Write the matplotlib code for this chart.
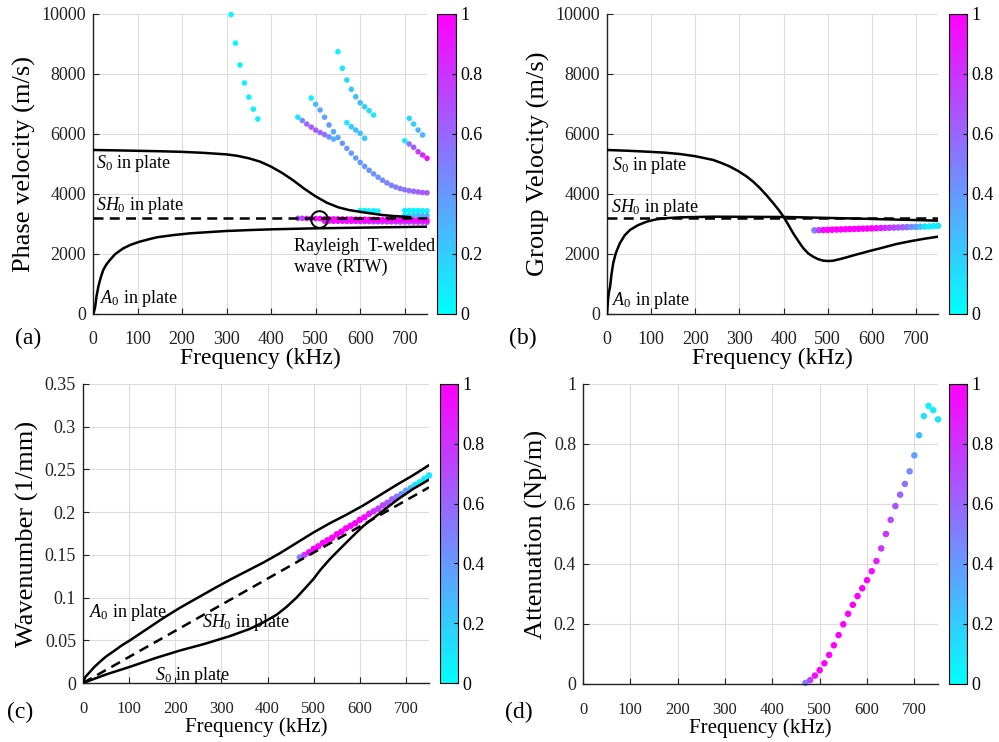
import numpy as np
import matplotlib
matplotlib.use('Agg')
import matplotlib.pyplot as plt
from matplotlib.cm import ScalarMappable
from matplotlib.colors import Normalize
from matplotlib.ticker import FormatStrFormatter

plt.rcParams['font.family'] = 'Liberation Serif'
plt.rcParams['mathtext.fontset'] = 'custom'
plt.rcParams['mathtext.rm'] = 'Liberation Serif'
plt.rcParams['mathtext.it'] = 'Liberation Serif:italic'

# ---------------- (a) phase velocity ----------------
f_s0_ph = [0, 50, 100, 150, 200, 250, 300, 325, 350, 375, 400, 425, 450, 475, 500,
           525, 550, 575, 600, 625, 650, 675, 700, 712]
v_s0_ph = [5467, 5455, 5440, 5425, 5405, 5370, 5320, 5270, 5190, 5080, 4911, 4700, 4450, 4170, 3920,
           3710, 3560, 3465, 3405, 3350, 3300, 3265, 3244, 3230]
f_a0_ph = [0, 2, 5, 8, 12, 17, 23, 30, 38, 50, 68, 85, 105, 125, 143, 180, 218, 260,
           300, 350, 400, 500, 600, 700, 750]
v_a0_ph = [0, 60, 250, 600, 911, 1200, 1467, 1650, 1800, 2000, 2189, 2310, 2411, 2490, 2556, 2630, 2689, 2730,
           2767, 2797, 2822, 2856, 2878, 2900, 2911]
f_sh0 = [0, 750]
v_sh0 = [3200, 3200]

f_g1 = [310, 320, 330, 340, 350, 360, 370]
v_g1 = [9980, 9030, 8300, 7700, 7230, 6830, 6500]
c_g1 = [0.03, 0.03, 0.05, 0.05, 0.05, 0.06, 0.06]
f_g2 = [460, 470, 480, 490, 500, 510, 520, 530, 540]
v_g2 = [6560, 6450, 6330, 6230, 6130, 6050, 5980, 5900, 5830]
c_g2 = [0.1, 0.45, 0.6, 0.65, 0.65, 0.6, 0.55, 0.45, 0.3]
f_g3 = [490, 500, 510, 520, 530, 540, 550, 560, 570, 580, 590, 600, 610, 620,
        630, 640, 650, 660, 670, 680, 690, 700, 710, 720, 730, 740, 750]
v_g3 = [7200, 6990, 6800, 6560, 6300, 6080, 5880, 5690, 5520, 5360, 5200, 5050, 4920, 4790,
        4670, 4560, 4460, 4370, 4290, 4230, 4180, 4140, 4110, 4090, 4070, 4050, 4040]
c_g3 = [0.05, 0.25, 0.35, 0.35, 0.4, 0.35, 0.35, 0.4, 0.4, 0.4, 0.4, 0.4, 0.4, 0.42,
        0.42, 0.42, 0.45, 0.5, 0.5, 0.5, 0.52, 0.55, 0.57, 0.6, 0.62, 0.65, 0.65]
f_g4 = [550, 560, 570, 580, 590, 600, 610, 620, 630]
v_g4 = [8743, 8190, 7800, 7490, 7243, 7043, 6910, 6777, 6633]
c_g4 = [0.05, 0.1, 0.15, 0.2, 0.25, 0.25, 0.2, 0.15, 0.1]
f_g5 = [570, 580, 590, 600, 610]
v_g5 = [6377, 6243, 6133, 6023, 5857]
c_g5 = [0.1, 0.2, 0.25, 0.25, 0.2]
f_g6 = [710, 720, 730, 740]
v_g6 = [6523, 6333, 6133, 5967]
c_g6 = [0.15, 0.2, 0.3, 0.3]
f_g7 = [700, 710, 720, 730, 740, 750]
v_g7 = [5777, 5667, 5557, 5410, 5300, 5190]
c_g7 = [0.1, 0.55, 0.65, 0.75, 0.85, 0.95]

f_rtw1 = [460, 470, 480, 490, 500, 510, 520, 530, 540, 550, 560, 570, 580, 590, 600,
          610, 620, 630, 640, 650, 660, 670, 680, 690, 700, 710, 720, 730, 740, 750]
v_rtw1 = [3190, 3190, 3185, 3185, 3180, 3180, 3175, 3175, 3170, 3170, 3170, 3165, 3165, 3160, 3160,
          3160, 3155, 3155, 3150, 3150, 3150, 3145, 3145, 3140, 3140, 3140, 3135, 3135, 3130, 3130]
c_rtw1 = [0.7, 0.75, 0.85, 0.95, 1, 1, 1, 1, 1, 1, 1, 1, 1, 1, 1,
          1, 1, 1, 1, 1, 1, 1, 1, 1, 1, 1, 1, 1, 1, 1]
f_rtw2 = [520, 530, 540, 550, 560, 570, 580, 590, 600, 610, 620, 630,
          640, 650, 660, 670, 680, 690, 700, 710, 720, 730, 740, 750]
v_rtw2 = [3095, 3095, 3090, 3090, 3090, 3085, 3085, 3085, 3080, 3080, 3080, 3075,
          3075, 3075, 3070, 3070, 3070, 3065, 3065, 3065, 3060, 3060, 3060, 3055]
c_rtw2 = [0.95, 0.95, 0.95, 0.9, 0.9, 0.9, 0.9, 0.85, 0.85, 0.85, 0.85, 0.8,
          0.8, 0.8, 0.8, 0.8, 0.75, 0.75, 0.75, 0.75, 0.75, 0.75, 0.75, 0.75]
f_cy1 = [600, 610, 620, 630, 640, 700, 710, 720, 730, 740, 750]
v_cy1 = [3450, 3450, 3440, 3440, 3430, 3450, 3450, 3450, 3450, 3440, 3440]
c_cy1 = [0.05, 0.05, 0.05, 0.05, 0.05, 0.05, 0.05, 0.05, 0.05, 0.05, 0.05]
f_cy2 = [700, 710, 720, 730, 740, 750]
v_cy2 = [3290, 3290, 3285, 3285, 3280, 3280]
c_cy2 = [0.1, 0.15, 0.2, 0.25, 0.3, 0.3]

# ---------------- (b) group velocity ----------------
f_s0_gr = [0, 50, 90, 130, 165, 200, 241, 260, 279, 298, 317, 332, 347, 362, 377, 390, 400,
           411, 422, 434, 445, 456, 467, 478, 490, 502, 513, 528, 543, 562, 581, 600,
           619, 637, 656, 675, 694, 722, 750]
v_s0_gr = [5467, 5440, 5411, 5380, 5333, 5260, 5133, 5030, 4911, 4760, 4578, 4400, 4189, 3950, 3689, 3450, 3244,
           2970, 2689, 2420, 2189, 2020, 1911, 1830, 1778, 1765, 1778, 1830, 1889, 1970, 2044, 2120,
           2189, 2260, 2333, 2390, 2444, 2515, 2578]
f_a0_gr = [0, 1, 2.5, 4, 7, 10, 14, 20, 29, 40, 52, 70, 90, 110, 128, 165, 241, 407, 543, 694, 750]
v_a0_gr = [0, 200, 500, 700, 911, 1300, 1689, 2030, 2356, 2620, 2800, 2960, 3078, 3150, 3189, 3222,
           3244, 3233, 3189, 3133, 3111]

f_rtw = [470, 480, 490, 500, 510, 520, 530, 540, 550, 560, 570, 580, 590, 600, 610,
         620, 630, 640, 650, 660, 670, 680, 690, 700, 710, 720, 730, 740, 750]
c_rtw = [0.5, 0.75, 0.95, 1, 1, 1, 1, 1, 1, 1, 1, 1, 1, 1, 0.95,
         0.9, 0.8, 0.78, 0.72, 0.68, 0.62, 0.55, 0.45, 0.38, 0.25, 0.12, 0.05, 0.08, 0.1]
vg_rtw = [2790, 2795, 2800, 2805, 2810, 2815, 2820, 2825, 2830, 2835, 2840, 2845, 2850, 2855, 2860,
          2865, 2870, 2875, 2880, 2885, 2890, 2895, 2900, 2905, 2910, 2915, 2920, 2930, 2940]

# ---------------- (c) wavenumber ----------------
f_a0_k = [0, 5, 15, 25, 37, 50, 66, 84, 102, 138, 174, 210, 246, 282, 319, 355, 391,
          427, 463, 499, 535, 571, 608, 644, 680, 715, 750]
k_a0 = [0, 0.007, 0.013, 0.019, 0.025, 0.031, 0.037, 0.044, 0.050, 0.063, 0.076, 0.088, 0.099, 0.110,
        0.121, 0.131, 0.141, 0.152, 0.164, 0.176, 0.187, 0.197, 0.208, 0.220, 0.232, 0.243, 0.255]
f_s0_k = [0, 50, 102, 156, 210, 265, 319, 360, 391, 420, 441, 463, 485, 500, 514, 535, 557,
          583, 608, 644, 680, 715, 750]
k_s0 = [0, 0.010, 0.019, 0.029, 0.038, 0.046, 0.055, 0.063, 0.071, 0.080, 0.089, 0.100, 0.113, 0.122,
        0.132, 0.145, 0.157, 0.171, 0.184, 0.199, 0.214, 0.227, 0.238]
k_sh0 = [0, 0.229]
k_rtw = [0.147, 0.150, 0.153, 0.157, 0.160, 0.164, 0.167, 0.170, 0.174, 0.177, 0.181, 0.184, 0.187, 0.191, 0.194,
         0.198, 0.201, 0.204, 0.208, 0.211, 0.215, 0.218, 0.221, 0.225, 0.228, 0.232, 0.235, 0.239, 0.243]

# ---------------- (d) attenuation ----------------
att_rtw = [0.004, 0.013, 0.028, 0.046, 0.069, 0.097, 0.129, 0.163, 0.199, 0.234, 0.264, 0.293, 0.319, 0.346, 0.376,
           0.41, 0.452, 0.5, 0.547, 0.593, 0.631, 0.667, 0.709, 0.762, 0.829, 0.893, 0.927, 0.913, 0.882]

freq_ticks = [0, 100, 200, 300, 400, 500, 600, 700]
rtw_circle = (507, 3170)

W, H = 999, 742
fig = plt.figure(figsize=(W / 100, H / 100), dpi=100)
cmap = 'cool'


def px_axes(x0, x1, y0, y1):
    return fig.add_axes([x0 / W, 1 - y1 / H, (x1 - x0) / W, (y1 - y0) / H])


def style(ax, ylim, yticks, ylabel, xpad, xlpad, xlsize, xtsize, yfmt=None):
    ax.set_xlim(0, 750)
    ax.set_ylim(*ylim)
    ax.set_xticks(freq_ticks)
    ax.set_yticks(yticks)
    if yfmt:
        ax.yaxis.set_major_formatter(FormatStrFormatter(yfmt))
    ax.grid(True, color='#dcdcdc', lw=0.8)
    ax.set_axisbelow(True)
    for s in ['top', 'right']:
        ax.spines[s].set_visible(False)
    for s in ['left', 'bottom']:
        ax.spines[s].set_linewidth(1.0)
        ax.spines[s].set_color('#222222')
    ax.tick_params(direction='in', length=4, labelsize=13, pad=5, colors='#222222')
    ax.tick_params(axis='x', pad=xpad, labelsize=xtsize)
    ax.set_xlabel('Frequency (kHz)', fontsize=xlsize, labelpad=xlpad)
    ax.set_ylabel(ylabel, fontsize=19, labelpad=4)


def cbar(x0, x1, y0, y1):
    cax = px_axes(x0, x1, y0, y1)
    sm = ScalarMappable(norm=Normalize(0, 1), cmap=cmap)
    cb = fig.colorbar(sm, cax=cax, ticks=[0, 0.2, 0.4, 0.6, 0.8, 1])
    cb.ax.yaxis.set_major_formatter(FormatStrFormatter('%g'))
    cb.ax.tick_params(direction='in', length=3, labelsize=13, pad=3)
    cb.outline.set_linewidth(0.8)


def dots(ax, f, y, c, s=16):
    ax.scatter(f, y, c=c, cmap=cmap, vmin=0, vmax=1, s=s, edgecolors='none', zorder=2, clip_on=False)


lw = 1.8
dash = (0, (4, 2.5))
it = {'fontsize': 13}

# (a)
ax = px_axes(93, 427, 14, 314)
for f, v, c in [(f_g1, v_g1, c_g1), (f_g2, v_g2, c_g2), (f_g3, v_g3, c_g3), (f_g4, v_g4, c_g4),
                (f_g5, v_g5, c_g5), (f_g6, v_g6, c_g6), (f_g7, v_g7, c_g7), (f_cy1, v_cy1, c_cy1),
                (f_cy2, v_cy2, c_cy2), (f_rtw2, v_rtw2, c_rtw2), (f_rtw1, v_rtw1, c_rtw1)]:
    dots(ax, f, v, c)
ax.plot(f_s0_ph, v_s0_ph, color='black', lw=lw, zorder=3)
ax.plot(f_a0_ph, v_a0_ph, color='black', lw=lw, zorder=3)
ax.plot(f_sh0, v_sh0, color='black', lw=lw, ls=dash, zorder=3)
ax.plot(*rtw_circle, 'o', ms=12, mfc='none', mec='black', mew=1.4, zorder=4)
style(ax, (0, 10000), range(0, 10001, 2000), 'Phase velocity (m/s)', 12, 0, 17, 13)
ax.text(7, 5000, r'$\mathit{S}_0$ in plate', va='center', **it)
ax.text(7, 3600, r'$\mathit{SH}_0$ in plate', va='center', **it)
ax.text(15, 500, r'$\mathit{A}_0$ in plate', va='center', **it)
ax.text(452, 2250, 'Rayleigh  T-welded', va='center', **it)
ax.text(452, 1550, 'wave (RTW)', va='center', **it)
cbar(437, 456, 14, 314)
fig.text(28 / W, 1 - 338 / H, '(a)', fontsize=17, ha='center', va='center')

# (b)
ax = px_axes(607, 938, 14, 314)
dots(ax, f_rtw, vg_rtw, c_rtw, s=22)
ax.plot(f_s0_gr, v_s0_gr, color='black', lw=lw, zorder=3)
ax.plot(f_a0_gr, v_a0_gr, color='black', lw=lw, zorder=3)
ax.plot(f_sh0, v_sh0, color='black', lw=lw, ls=dash, zorder=3)
style(ax, (0, 10000), range(0, 10001, 2000), 'Group Velocity (m/s)', 12, 0, 17, 13)
ax.text(12, 4950, r'$\mathit{S}_0$ in plate', va='center', **it)
ax.text(10, 3550, r'$\mathit{SH}_0$ in plate', va='center', **it)
ax.text(12, 450, r'$\mathit{A}_0$ in plate', va='center', **it)
cbar(949, 967, 14, 314)
fig.text(523 / W, 1 - 338 / H, '(b)', fontsize=17, ha='center', va='center')

# (c)
ax = px_axes(83, 429, 384, 683)
dots(ax, f_rtw, k_rtw, c_rtw, s=22)
ax.plot(f_a0_k, k_a0, color='black', lw=lw, zorder=3)
ax.plot(f_s0_k, k_s0, color='black', lw=lw, zorder=3)
ax.plot(f_sh0, k_sh0, color='black', lw=lw, ls=dash, zorder=3)
style(ax, (0, 0.35), [0, 0.05, 0.1, 0.15, 0.2, 0.25, 0.3, 0.35], 'Wavenumber (1/mm)', 13, 0, 15, 12, '%g')
ax.text(12, 0.082, r'$\mathit{A}_0$ in plate', va='center', **it)
ax.text(258, 0.071, r'$\mathit{SH}_0$ in plate', va='center', **it)
ax.text(156, 0.009, r'$\mathit{S}_0$ in plate', va='center', **it)
cbar(440, 458, 384, 683)
fig.text(20 / W, 1 - 712 / H, '(c)', fontsize=17, ha='center', va='center')

# (d)
ax = px_axes(583, 938, 384, 684)
dots(ax, f_rtw, att_rtw, c_rtw, s=22)
style(ax, (0, 1), [0, 0.2, 0.4, 0.6, 0.8, 1], 'Attenuation (Np/m)', 13, 0, 15, 12, '%g')
cbar(949, 967, 384, 684)
fig.text(519 / W, 1 - 712 / H, '(d)', fontsize=17, ha='center', va='center')

fig.savefig('out.png', dpi=100)
